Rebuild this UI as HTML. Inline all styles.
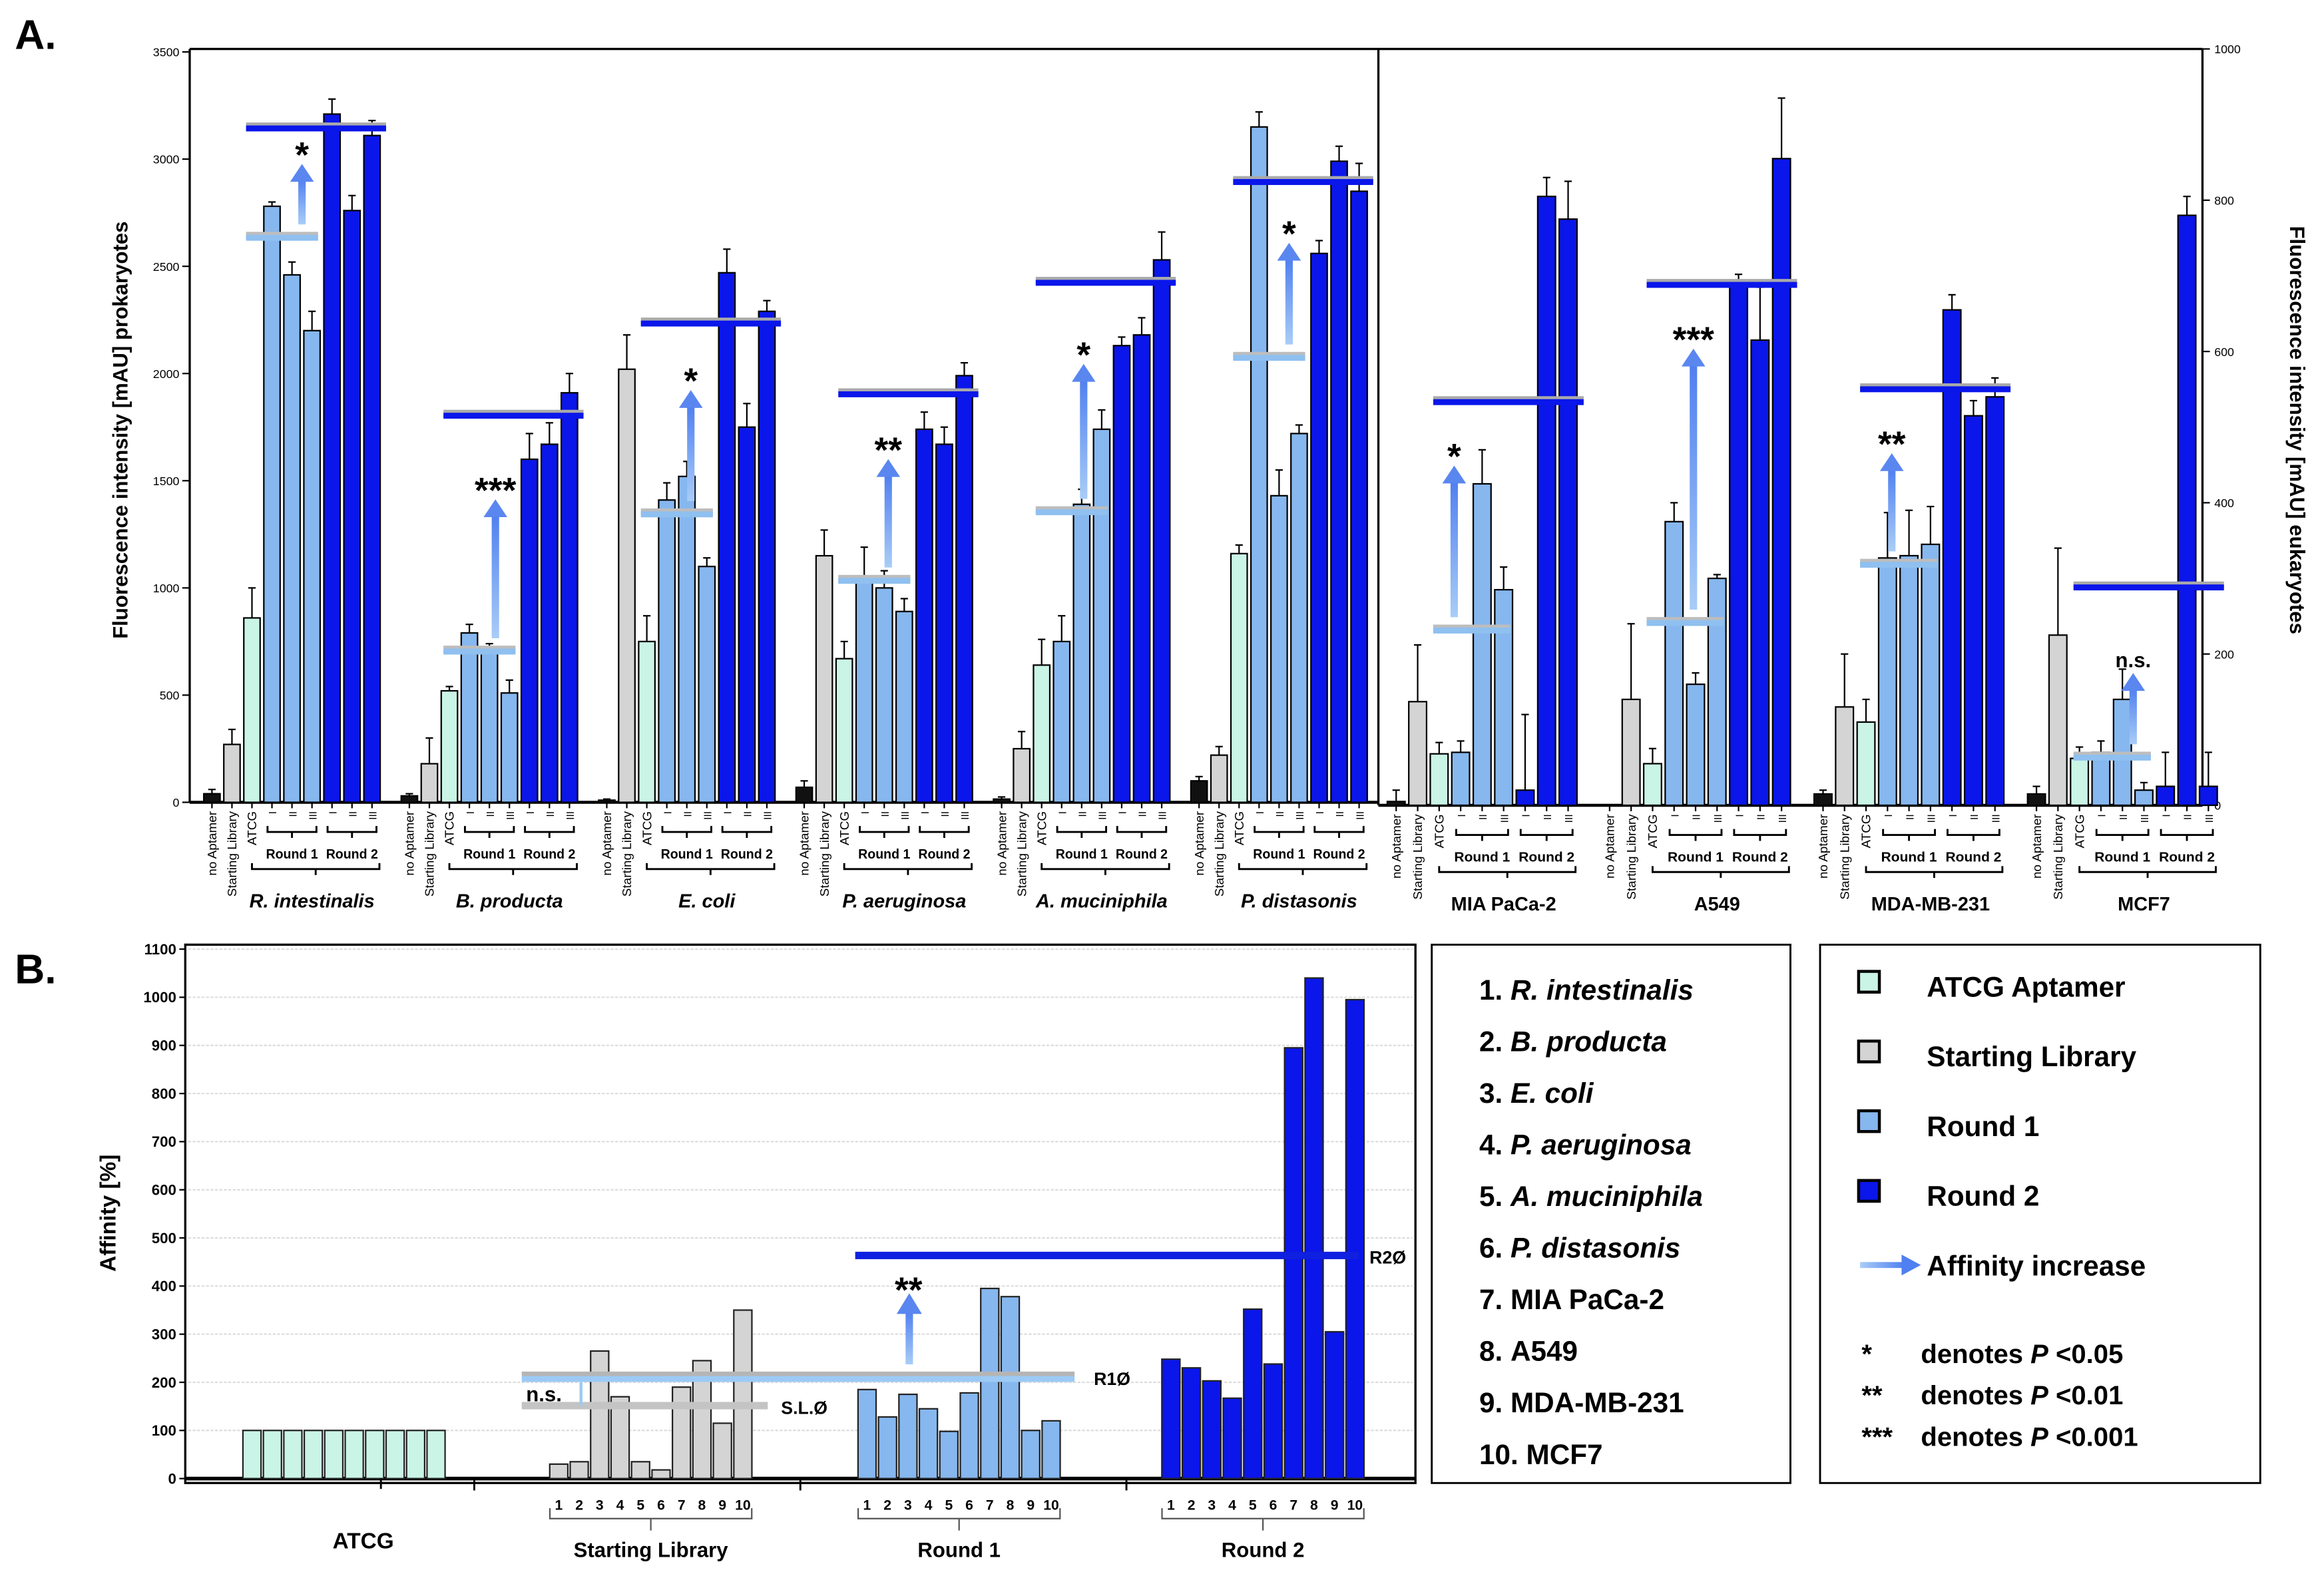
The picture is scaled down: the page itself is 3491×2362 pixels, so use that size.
<!DOCTYPE html>
<html><head><meta charset="utf-8"><style>
html,body{margin:0;padding:0;background:#fff;}
svg{display:block;font-family:"Liberation Sans",sans-serif;}
</style></head><body>
<svg id="fig" width="3491" height="2362" viewBox="0 0 1568 1060" preserveAspectRatio="none" xmlns="http://www.w3.org/2000/svg">
<defs>
<linearGradient id="arrG" x1="0" y1="1" x2="0" y2="0"><stop offset="0" stop-color="#a9cdf7"/><stop offset="1" stop-color="#4f7ff0"/></linearGradient>
<linearGradient id="arrH" x1="0" y1="0" x2="1" y2="0"><stop offset="0" stop-color="#a9cdf7"/><stop offset="1" stop-color="#4f7ff0"/></linearGradient>
</defs>
<g id="root"></g>
</svg>
<script>
// ===== Panel A data =====
const proNames = ["R. intestinalis","B. producta","E. coli","P. aeruginosa","A. muciniphila","P. distasonis"];
const eukNames = ["MIA PaCa-2","A549","MDA-MB-231","MCF7"];
// order: noApt, SL, ATCG, R1-I, R1-II, R1-III, R2-I, R2-II, R2-III
const proValues = [
 [40,270,860,2780,2460,2200,3210,2760,3110],
 [30,180,520,790,700,510,1600,1670,1910],
 [10,2020,750,1410,1520,1100,2470,1750,2290],
 [70,1150,670,1040,1000,890,1740,1670,1990],
 [15,250,640,750,1390,1740,2130,2180,2530],
 [100,220,1160,3150,1430,1720,2560,2990,2850]
];
const proErrors = [
 [20,70,140,20,60,90,70,70,70],
 [10,120,20,40,40,60,120,100,90],
 [5,160,120,80,70,40,110,110,50],
 [30,120,80,150,80,60,80,80,60],
 [10,80,120,120,70,90,40,80,130],
 [20,40,40,70,120,40,60,70,130]
];
const eukValues = [
 [5,137,68,70,425,285,20,805,775],
 [0,140,55,375,160,300,692,615,855],
 [15,130,110,327,330,345,655,515,540],
 [15,225,62,70,140,20,25,780,25]
];
const eukErrors = [
 [15,75,15,15,45,30,100,25,50],
 [0,100,20,25,15,5,10,70,80],
 [5,70,30,60,60,50,20,20,25],
 [10,115,15,15,40,10,45,25,45]
];
const proMeanR1 = [2640,710,1350,1040,1360,2080];
const proMeanR2 = [3150,1810,2240,1910,2430,2900];
const eukMeanR1 = [233,243,320,65];
const eukMeanR2 = [535,690,552,290];
const proSig = ["*","***","*","**","*","*"];
const eukSig = ["*","***","**","n.s."];
const yTicksL = [0,500,1000,1500,2000,2500,3000,3500];
const yTicksR = [0,200,400,600,800,1000];
// ===== Panel B data =====
const bGroups = ["ATCG","Starting Library","Round 1","Round 2"];
const bATCG = [100,100,100,100,100,100,100,100,100,100];
const bSL = [30,35,265,170,35,18,190,245,115,350];
const bR1 = [185,128,175,145,98,178,395,378,100,120];
const bR2 = [248,230,203,167,352,238,895,1040,305,995];
const bMeanSL = 150, bMeanR1 = 210, bMeanR2 = 462;
const bTicks = [0,100,200,300,400,500,600,700,800,900,1000,1100];
const legendOrg = ["1. R. intestinalis","2. B. producta","3. E. coli","4. P. aeruginosa","5. A. muciniphila","6. P. distasonis","7. MIA PaCa-2","8. A549","9. MDA-MB-231","10. MCF7"];

const NS="http://www.w3.org/2000/svg";
const root=document.getElementById('root');
function mk(tag,attrs,parent,txt){const e=document.createElementNS(NS,tag);for(const k in attrs)e.setAttribute(k,attrs[k]);if(txt!==undefined)e.textContent=txt;(parent||root).appendChild(e);return e;}
const colors=["#111111","#d4d4d4","#c9f4e6","#86b7ee","#86b7ee","#86b7ee","#0a16ea","#0a16ea","#0a16ea"];
const barLabels=["no Aptamer","Starting Library","ATCG","I","II","III","I","II","III"];

const yL=v=>541-v*(506/3500);
const yR=v=>543-v*(510/1000);
const yB=v=>997-v*(357/1100);

mk('line',{x1:128,y1:33,x2:1486,y2:33,stroke:'#000','stroke-width':1.5});
mk('line',{x1:128,y1:33,x2:128,y2:541,stroke:'#000','stroke-width':1.5});
mk('line',{x1:930,y1:33,x2:930,y2:543,stroke:'#000','stroke-width':1.5});
mk('line',{x1:1486,y1:33,x2:1486,y2:543,stroke:'#000','stroke-width':1.5});
mk('line',{x1:128,y1:541,x2:930,y2:541,stroke:'#000','stroke-width':2});
mk('line',{x1:930,y1:543,x2:1486,y2:543,stroke:'#000','stroke-width':2});
yTicksL.forEach(t=>{mk('line',{x1:123,y1:yL(t),x2:128,y2:yL(t),stroke:'#000'});
 const e=mk('text',{x:121,y:yL(t)+3,'font-size':8,'text-anchor':'end'},root,String(t));
 
 });
yTicksR.forEach(t=>{mk('line',{x1:1486,y1:yR(t),x2:1491,y2:yR(t),stroke:'#000'});
 const e=mk('text',{x:1494,y:yR(t)+3,'font-size':8},root,String(t));
 
 });
let t=mk('text',{x:0,y:0,'font-size':14,'font-weight':'bold','text-anchor':'middle',transform:'translate(86,290) rotate(-90)'},root,'Fluorescence intensity [mAU] prokaryotes');

t=mk('text',{x:0,y:0,'font-size':14,'font-weight':'bold','text-anchor':'middle',transform:'translate(1545,290) rotate(90)'},root,'Fluorescence intensity [mAU] eukaryotes');

t=mk('text',{x:10,y:33,'font-size':28,'font-weight':'bold'},root,'A.');

t=mk('text',{x:10,y:663,'font-size':28,'font-weight':'bold'},root,'B.');


function drawGroup(x0,step,vals,errs,ys,name,italic,meanR1,meanR2,sig,baseY,arrOff,arrFrac){
 const g=mk('g',{});
 
 
 const bw=step-2.5;
 vals.forEach((v,i)=>{
  const cx=x0+i*step;const top=ys(v);
  const r=mk('rect',{x:cx-bw/2,y:top,width:bw,height:Math.max(0,baseY-top),fill:colors[i],stroke:'#000','stroke-width':1},g);
  
  
  const et=ys(v+errs[i]);
  if(errs[i]>0){mk('line',{x1:cx,y1:top,x2:cx,y2:et,stroke:'#000','stroke-width':1},g);
   mk('line',{x1:cx-2.5,y1:et,x2:cx+2.5,y2:et,stroke:'#000','stroke-width':1},g);}
  mk('line',{x1:cx,y1:baseY,x2:cx,y2:baseY+4,stroke:'#000'},g);
  const lt=mk('text',{x:0,y:0,'font-size':i<3?8.5:7,'text-anchor':'end',transform:`translate(${cx+3},${baseY+6}) rotate(-90)`},g,barLabels[i]);
  
  
 });
 const br=(xa,xb,y,h)=>{const xm=(xa+xb)/2;mk('path',{d:`M${xa} ${y-h} L${xa} ${y} L${xb} ${y} L${xb} ${y-h} M${xm} ${y} L${xm} ${y+h}`,fill:'none',stroke:'#000','stroke-width':1.3},g);};
 const x3=x0+3*step,x5=x0+5*step,x6=x0+6*step,x8=x0+8*step;
 br(x3-3,x5+3,baseY+20,4);br(x6-3,x8+3,baseY+20,4);
 mk('text',{x:(x3+x5)/2,y:baseY+38,'font-size':9,'text-anchor':'middle','font-weight':'bold','textLength':step*2.6,'lengthAdjust':'spacingAndGlyphs'},g,'Round 1');
 mk('text',{x:(x6+x8)/2,y:baseY+38,'font-size':9,'text-anchor':'middle','font-weight':'bold','textLength':step*2.6,'lengthAdjust':'spacingAndGlyphs'},g,'Round 2');
 br(x0+2*step,x8+5,baseY+45,4);
 const gn=mk('text',{x:(x0+2*step+x8)/2,y:baseY+71,'font-size':13,'font-weight':'bold','font-style':italic?'italic':'normal','text-anchor':'middle'},g,name);
 
 
 const ym1=ys(meanR1),ym2=ys(meanR2);
 const xa=x0+2*step-4;
 mk('rect',{x:xa,y:ym1-3,width:step*3.6,height:5,fill:'#bdbdbd'},g);
 mk('rect',{x:xa,y:ym1-1,width:step*3.6,height:4,fill:'#8fc0f0'},g);
 mk('rect',{x:xa,y:ym2-3,width:step*7,height:5,fill:'#aaaaaa'},g);
 mk('rect',{x:xa,y:ym2-1,width:step*7,height:4,fill:'#0a16ea'},g);
 const ax=x0+arrOff*step;const ya=ym1-8;
 const arrTop = ya - Math.max(30,(ya-ym2)*arrFrac);
 mk('rect',{x:ax-2.5,y:arrTop+10,width:5,height:ya-arrTop-10,fill:'url(#arrG)'},g);
 mk('path',{d:`M${ax-8} ${arrTop+12} L${ax} ${arrTop} L${ax+8} ${arrTop+12} Z`,fill:'#5a86f0'},g);
 const st=mk('text',{x:ax,y:arrTop-(sig==='n.s.'?4:-2),'font-size':sig==='n.s.'?14:24,'font-weight':'bold','text-anchor':'middle'},g,sig);
 
 
}
const proX0=143, proGap=133.2, proStep=13.5;
const proArrOff=[4.5,4.3,4.2,4.2,4.1,4.5];
proValues.forEach((v,i)=>drawGroup(proX0+i*proGap,proStep,v,proErrors[i],yL,proNames[i],true,proMeanR1[i],proMeanR2[i],proSig[i],541,proArrOff[i],0.62));
const eukX0=942, eukGap=144, eukStep=14.5;
const eukArrOff=[2.7,3.9,3.2,4.5];
const eukArrFrac=[0.7,0.8,0.6,0.45];
eukValues.forEach((v,i)=>drawGroup(eukX0+i*eukGap,eukStep,v,eukErrors[i],yR,eukNames[i],false,eukMeanR1[i],eukMeanR2[i],eukSig[i],543,eukArrOff[i],eukArrFrac[i]));

// ===== Panel B =====
mk('rect',{x:125,y:637,width:830,height:363,fill:'none',stroke:'#000','stroke-width':1.5});
bTicks.forEach(tk=>{const y=yB(tk);
 if(tk>0)mk('line',{x1:127,y1:y,x2:953,y2:y,stroke:'#ddd','stroke-width':1,'stroke-dasharray':'2,1'});
 mk('line',{x1:121,y1:y,x2:125,y2:y,stroke:'#000'});
 const e=mk('text',{x:119,y:y+3.5,'font-size':10,'font-weight':'bold','text-anchor':'end'},root,String(tk));
 
 });
mk('line',{x1:125,y1:997,x2:955,y2:997,stroke:'#000','stroke-width':2.5});
t=mk('text',{x:0,y:0,'font-size':15,'font-weight':'bold','text-anchor':'middle',transform:'translate(78,818) rotate(-90)'},root,'Affinity [%]');

const bSeries=[bATCG,bSL,bR1,bR2];
const bStart=[170,377,585,790];
const bCol=["#c9f4e6","#d4d4d4","#86b7ee","#0a16ea"];
const bStep=13.8;
bSeries.forEach((arr,gi)=>{
 const g=mk('g',{});
 
 
 arr.forEach((v,i)=>{const cx=bStart[gi]+i*bStep;const top=yB(v);
  const r=mk('rect',{x:cx-bStep/2+0.8,y:top,width:bStep-1.6,height:997-top,fill:bCol[gi],stroke:'#222','stroke-width':1},g);
  
  
  if(gi>0){mk('text',{x:cx,y:1018,'font-size':9.5,'font-weight':'bold','text-anchor':'middle'},g,String(i+1));}
 });
 const xa=bStart[gi]-6,xb=bStart[gi]+9*bStep+6,xm=(xa+xb)/2;
 if(gi>0){mk('path',{d:`M${xa} 1017 L${xa} 1024 L${xb} 1024 L${xb} 1017 M${xm} 1024 L${xm} 1032`,fill:'none',stroke:'#555','stroke-width':1},g);
  mk('text',{x:xm,y:1050,'font-size':14,'font-weight':'bold','text-anchor':'middle'},g,bGroups[gi]);}
 else mk('text',{x:xm+13,y:1044,'font-size':15,'font-weight':'bold','text-anchor':'middle'},g,'ATCG');
});
[320,540,760].forEach(x=>mk('line',{x1:x,y1:997,x2:x,y2:1005,stroke:'#000','stroke-width':1.3}));
mk('line',{x1:257,y1:997,x2:257,y2:1004,stroke:'#000','stroke-width':1.3});
mk('rect',{x:352,y:yB(bMeanSL)-3,width:166,height:5,fill:'#c4c4c4'});
mk('text',{x:527,y:yB(bMeanSL)+5,'font-size':12,'font-weight':'bold'},root,'S.L.Ø');
mk('rect',{x:352,y:yB(bMeanR1)-4,width:373,height:4,fill:'#b5b5b5'});
mk('rect',{x:352,y:yB(bMeanR1)-1,width:373,height:4,fill:'#9ccaf5'});
mk('text',{x:738,y:yB(bMeanR1)+5,'font-size':12,'font-weight':'bold'},root,'R1Ø');
mk('rect',{x:577,y:yB(bMeanR2)-3,width:340,height:5,fill:'#1020e0'});
mk('text',{x:924,y:yB(bMeanR2)+5,'font-size':12,'font-weight':'bold'},root,'R2Ø');
mk('text',{x:367,y:945,'font-size':14,'font-weight':'bold','text-anchor':'middle'},root,'n.s.');
mk('line',{x1:392,y1:948,x2:392,y2:932,stroke:'#9ccaf5','stroke-width':2});
mk('rect',{x:611,y:884,width:5,height:36,fill:'url(#arrG)'});
mk('path',{d:'M605 886 L613.5 872 L622 886 Z',fill:'#5a86f0'});
mk('text',{x:613,y:878,'font-size':24,'font-weight':'bold','text-anchor':'middle'},root,'**');

const lg1=mk('g',{});


mk('rect',{x:966,y:637,width:242,height:363,fill:'none',stroke:'#000','stroke-width':1.3},lg1);
legendOrg.forEach((s,i)=>{const y=674+i*34.8;const m=s.match(/^(\d+\.\s)(.*)$/);
 const tx=mk('text',{x:998,y:y,'font-size':19,'font-weight':'bold'},lg1);
 
 
 mk('tspan',{},tx,m[1]);mk('tspan',{'font-style':i<6?'italic':'normal'},tx,m[2]);});
const lg2=mk('g',{});


mk('rect',{x:1228,y:637,width:297,height:363,fill:'none',stroke:'#000','stroke-width':1.3},lg2);
const lgNames=["ATCG Aptamer","Starting Library","Round 1","Round 2"];
const lgCol=["#c9f4e6","#d4d4d4","#86b7ee","#0a16ea"];
lgNames.forEach((s,i)=>{const y=665+i*47;
 const sw=mk('rect',{x:1254,y:y-10,width:14,height:14,fill:lgCol[i],stroke:'#000','stroke-width':2},lg2);
 
 
 const tx=mk('text',{x:1300,y:y+7,'font-size':19,'font-weight':'bold'},lg2,s);
 
 });
mk('rect',{x:1255,y:851,width:30,height:4,fill:'url(#arrH)'},lg2);
mk('path',{d:'M1283 846 L1296 853 L1283 860 Z',fill:'#4f7ff0'},lg2);
mk('text',{x:1300,y:860,'font-size':19,'font-weight':'bold'},lg2,'Affinity increase');
const sigs=[["*","0.05"],["**","0.01"],["***","0.001"]];
sigs.forEach((s,i)=>{const y=919+i*28;
 mk('text',{x:1256,y:y,'font-size':18,'font-weight':'bold'},lg2,s[0]);
 const tx=mk('text',{x:1296,y:y,'font-size':18,'font-weight':'bold'},lg2);
 mk('tspan',{},tx,'denotes ');mk('tspan',{'font-style':'italic'},tx,'P');mk('tspan',{},tx,' <'+s[1]);});
</script>
</body></html>
